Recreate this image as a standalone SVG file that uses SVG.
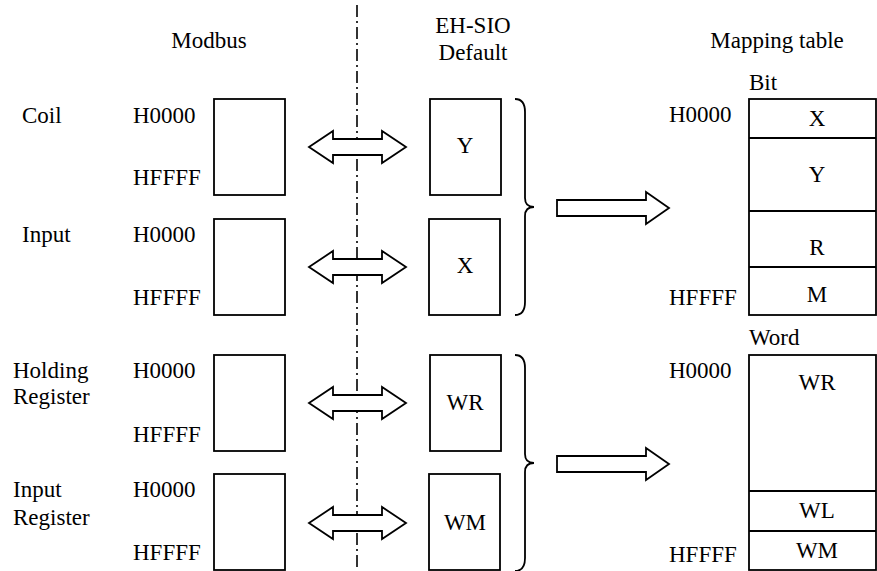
<svg xmlns="http://www.w3.org/2000/svg" width="877" height="571" viewBox="0 0 877 571">
<style>
text{font-family:'Liberation Serif','DejaVu Serif',serif;font-size:23px;fill:#000}
.c{text-anchor:middle}
.box{fill:#fff;stroke:#000;stroke-width:1.8}
.ln{fill:none;stroke:#000;stroke-width:1.8}
.arr{fill:#fff;stroke:#000;stroke-width:1.8;stroke-linejoin:miter}
.dash{fill:none;stroke:#000;stroke-width:1.6;stroke-dasharray:12 4 2 4}
</style>
<defs>
<polygon id="dbl" class="arr" points="309,0 333,-16 333,-8 382,-8 382,-16 406,0 382,16 382,8 333,8 333,16"/>
<polygon id="big" class="arr" points="557,-8 646,-8 646,-16 669,0 646,16 646,8 557,8"/>
<path id="brace" class="ln" d="M515,0 Q525,0 525,13 L525,99 Q525,108 534,108 Q525,108 525,117 L525,203 Q525,216 515,216"/>
</defs>
<g font-family="Liberation Serif, serif">
<g id="headers">
<text class="c" x="209" y="48">Modbus</text>
<text class="c" x="473" y="33">EH-SIO</text>
<text class="c" x="473" y="60">Default</text>
<text class="c" x="777" y="48">Mapping table</text>
</g>

<g id="connectors">
<line class="dash" x1="357" y1="5" x2="357" y2="571"/>
<use href="#dbl" y="147"/>
<use href="#dbl" y="267"/>
<use href="#dbl" y="403"/>
<use href="#dbl" y="523"/>
<use href="#brace" y="99"/>
<use href="#brace" y="355"/>
<use href="#big" y="208"/>
<use href="#big" y="464"/>
</g>

<g id="modbus-coil">
<text x="22" y="123">Coil</text>
<text x="133" y="123">H0000</text>
<text x="133" y="185">HFFFF</text>
<rect class="box" x="214" y="99" width="71" height="96"/>
</g>
<g id="modbus-input">
<text x="22" y="242">Input</text>
<text x="133" y="242">H0000</text>
<text x="133" y="305">HFFFF</text>
<rect class="box" x="214" y="219" width="71" height="96"/>
</g>
<g id="modbus-holding">
<text x="13" y="378">Holding</text>
<text x="13" y="404">Register</text>
<text x="133" y="378">H0000</text>
<text x="133" y="442">HFFFF</text>
<rect class="box" x="214" y="355" width="71" height="96"/>
</g>
<g id="modbus-inputreg">
<text x="13" y="497">Input</text>
<text x="13" y="525">Register</text>
<text x="133" y="497">H0000</text>
<text x="133" y="560">HFFFF</text>
<rect class="box" x="214" y="474" width="71" height="96"/>
</g>

<g id="eh-y">
<rect class="box" x="430" y="99" width="71" height="96"/>
<text class="c" x="465" y="153">Y</text>
</g>
<g id="eh-x">
<rect class="box" x="429" y="219" width="71" height="96"/>
<text class="c" x="465" y="273">X</text>
</g>
<g id="eh-wr">
<rect class="box" x="430" y="355" width="71" height="96"/>
<text class="c" x="465" y="410">WR</text>
</g>
<g id="eh-wm">
<rect class="box" x="429" y="474" width="71" height="96"/>
<text class="c" x="465" y="530">WM</text>
</g>

<g id="bit-table">
<text x="749" y="90">Bit</text>
<text x="669" y="122">H0000</text>
<text x="669" y="305">HFFFF</text>
<rect class="box" x="749" y="99" width="127" height="216"/>
<line class="ln" x1="749" y1="138" x2="876" y2="138"/>
<line class="ln" x1="749" y1="211" x2="876" y2="211"/>
<line class="ln" x1="749" y1="267" x2="876" y2="267"/>
<text class="c" x="817" y="126">X</text>
<text class="c" x="817" y="182">Y</text>
<text class="c" x="817" y="255">R</text>
<text class="c" x="817" y="302">M</text>
</g>

<g id="word-table">
<text x="749" y="345">Word</text>
<text x="669" y="378">H0000</text>
<text x="669" y="562">HFFFF</text>
<rect class="box" x="749" y="355" width="127" height="215"/>
<line class="ln" x1="749" y1="491" x2="876" y2="491"/>
<line class="ln" x1="749" y1="531" x2="876" y2="531"/>
<text class="c" x="817" y="390">WR</text>
<text class="c" x="817" y="518">WL</text>
<text class="c" x="817" y="558">WM</text>
</g>
</g>
</svg>
